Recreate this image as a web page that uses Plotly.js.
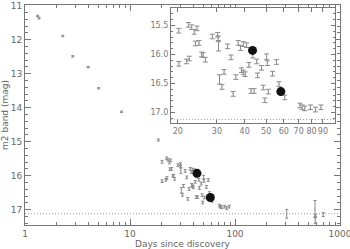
<!DOCTYPE html>
<html>
<head>
<meta charset="utf-8">
<script src="https://cdn.plot.ly/plotly-3.0.1.min.js"></script>
<style>html,body{margin:0;padding:0;background:#fff}#chart{width:350px;height:249px}</style>
</head>
<body>
<div id="chart"></div>
<script>
// Photometry (days since discovery, m2 magnitude, error)
var days = [1.32, 1.36, 2.29, 2.85, 4.0, 5.03, 8.3, 18.6,
  20.2, 22.3, 23.1, 23.7, 24.4, 28.6, 30.2, 30.4, 30.5, 33.5, 37.4, 38.3, 39.4, 40.8, 43.5,
  24.0, 24.9, 25.6, 26.0, 26.6, 20.2, 21.9, 22.5, 34.7, 32.3, 30.8, 31.6, 35.5, 36.5,
  38.7, 39.4, 40.2, 41.8, 42.7, 44.1, 45.3, 45.7, 47.6, 48.5, 49.3, 50.2, 50.6, 51.1,
  53.4, 55.6, 57.1, 60.6, 70.9, 72.6, 74.6, 79.1, 83.4, 88.2,
  311, 578, 585, 580, 693];
var mags = [11.30, 11.37, 11.89, 12.49, 12.81, 13.43, 14.12, 14.95,
  15.59, 15.49, 15.53, 15.61, 15.55, 15.69, 15.66, 15.72, 15.86, 15.86, 15.80, 15.89, 15.82, 15.84, 16.02,
  15.81, 15.80, 16.00, 16.01, 16.09, 16.16, 16.12, 16.07, 16.05, 16.30, 16.43, 16.56, 16.68, 16.39,
  16.27, 16.31, 16.34, 16.18, 16.63, 16.63, 16.12, 16.36, 16.23, 16.57, 16.79, 16.04, 16.15, 16.64,
  16.33, 16.13, 16.51, 16.74, 16.88, 16.91, 16.93, 16.91, 16.95, 16.91,
  17.12, 16.98, 17.19, 17.30, 17.14];
var errs = [0.02, 0.02, 0.02, 0.02, 0.02, 0.02, 0.02, 0.03,
  0.04, 0.04, 0.04, 0.04, 0.04, 0.04, 0.04, 0.04, 0.08, 0.04, 0.04, 0.04, 0.04, 0.04, 0.04,
  0.04, 0.04, 0.04, 0.04, 0.04, 0.04, 0.04, 0.04, 0.04, 0.04, 0.08, 0.04, 0.04, 0.04,
  0.04, 0.04, 0.04, 0.04, 0.04, 0.04, 0.04, 0.04, 0.04, 0.04, 0.04, 0.05, 0.04, 0.04,
  0.04, 0.04, 0.04, 0.04, 0.04, 0.04, 0.04, 0.04, 0.04, 0.04,
  0.13, 0.25, 0.05, 0.10, 0.06];
// Highlighted epochs
var dotDays = [43.4, 58.2];
var dotMags = [15.93, 16.64];
// Detection limit
var limitMag = 17.12;
// Tick labels
var mainXTicks = [1, 10, 100, 1000];
var mainXLabels = ['1', '10', '100', '1000'];
var mainXMinor = [2,3,4,5,6,7,8,9,20,30,40,50,60,70,80,90,200,300,400,500,600,700,800,900];
var mainYTicks = [11, 12, 13, 14, 15, 16, 17];
var insetXTicks = [20, 30, 40, 50, 60, 70, 80, 90];
var insetXLabels = ['20', '30', '40', '50', '60', '70', '80', '90'];

var grey = '#8a8a8a';
var axisCol = '#777';
var fnt = {family: 'DejaVu Sans', size: 9, color: '#666'};
var fntSmall = {family: 'DejaVu Sans', size: 8, color: '#777'};

function errTrace(xa, ya, w) {
  return {x: days, y: mags, xaxis: xa, yaxis: ya, type: 'scatter', mode: 'markers',
    marker: {size: 1, color: grey},
    error_y: {type: 'data', array: errs, visible: true, color: grey, thickness: 1, width: w},
    hoverinfo: 'skip', showlegend: false};
}
function dotTrace(xa, ya, s) {
  return {x: dotDays, y: dotMags, xaxis: xa, yaxis: ya, type: 'scatter', mode: 'markers',
    marker: {size: s, color: '#111'}, showlegend: false};
}

var data = [errTrace('x', 'y', 1.5), dotTrace('x', 'y', 9), errTrace('x2', 'y2', 2.5), dotTrace('x2', 'y2', 9)];

var ax = {showline: true, linecolor: axisCol, linewidth: 1, mirror: 'ticks', ticks: 'inside',
  tickcolor: axisCol, showgrid: false, zeroline: false, tickfont: fnt, ticklabeloverflow: 'allow'};

var layout = {
  width: 350, height: 249,
  margin: {l: 25, r: 10, t: 5, b: 24},
  paper_bgcolor: '#fff', plot_bgcolor: '#fff',
  font: fnt,
  xaxis: Object.assign({}, ax, {type: 'log', range: [0, 3], ticklen: 6,
    tickmode: 'array', tickvals: mainXTicks, ticktext: mainXLabels,
    minor: {tickmode: 'array', tickvals: mainXMinor, ticks: 'inside', ticklen: 3, tickcolor: axisCol, showgrid: false},
    title: {text: 'Days since discovery', font: fnt, standoff: 4}, automargin: false}),
  yaxis: Object.assign({}, ax, {range: [17.45, 10.98], tickmode: 'array', tickvals: mainYTicks, ticklen: 6,
    minor: {dtick: 0.2, tick0: 11, ticks: 'inside', ticklen: 3, tickcolor: axisCol, showgrid: false},
    title: {text: 'm2 band (mag)', font: fnt, standoff: 2}, automargin: false}),
  xaxis2: Object.assign({}, ax, {type: 'log', range: [Math.log10(18.6), Math.log10(102)],
    domain: [0.463, 0.984], anchor: 'y2', ticklen: 4, tickangle: 0, tickfont: fntSmall,
    tickmode: 'array', tickvals: insetXTicks, ticktext: insetXLabels}),
  yaxis2: Object.assign({}, ax, {range: [17.18, 15.2], domain: [0.464, 0.986], anchor: 'x2',
    dtick: 0.5, tickformat: '.1f', ticklen: 4, tickfont: fntSmall,
    minor: {dtick: 0.1, ticks: 'inside', ticklen: 2, tickcolor: axisCol, showgrid: false}}),
  shapes: [
    {type: 'line', xref: 'x domain', yref: 'y', x0: 0, x1: 1, y0: limitMag, y1: limitMag,
      line: {color: '#999', width: 1, dash: '1px,2px'}},
    {type: 'line', xref: 'x2 domain', yref: 'y2', x0: 0, x1: 1, y0: limitMag, y1: limitMag,
      line: {color: '#999', width: 1, dash: '1px,2px'}}
  ]
};

Plotly.newPlot('chart', data, layout, {displayModeBar: false, staticPlot: true});
</script>
</body>
</html>
